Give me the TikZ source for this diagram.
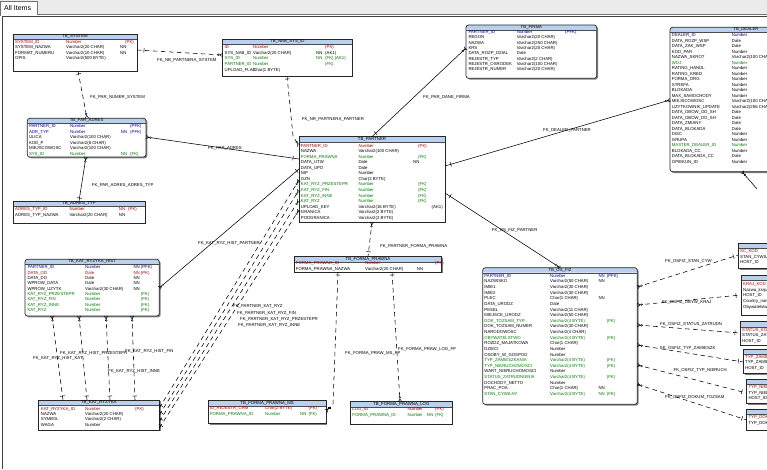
\documentclass[tikz,border=0pt]{standalone}
\usepackage{fontspec}
\setmainfont{Liberation Sans}
\usetikzlibrary{calc,decorations.markings}
\definecolor{rc}{HTML}{B00000}
\definecolor{bc}{HTML}{00008C}
\definecolor{gc}{HTML}{007A00}
\colorlet{kc}{black}
\definecolor{hdrblue}{HTML}{B9D1EE}
\definecolor{shadowc}{HTML}{808080}
\definecolor{tabgray}{HTML}{EBEBEB}
\newcounter{rowc}
\newcommand\tfont{\fontsize{4.3}{5}\selectfont}
\tikzset{
  tblbox/.style={draw=black!85, line width=0.7pt, fill=white, inner sep=0pt, outer sep=0pt,
    path picture={\fill[hdrblue] (path picture bounding box.north west) rectangle ([yshift=-5pt]path picture bounding box.north east);
      \draw[black!70,line width=0.4pt] ([yshift=-5pt]path picture bounding box.north west) -- ([yshift=-5pt]path picture bounding box.north east);}},
  rnd/.style={rounded corners=2.5pt},
  cell/.style={inner sep=0pt, anchor=west, font=\tfont, text height=3pt, text depth=0.9pt},
  ttl/.style={inner sep=0pt, font=\tfont, text height=3pt, text depth=0.9pt},
  lbl/.style={inner sep=0pt, anchor=west, font=\tfont, text height=3pt, text depth=0.9pt},
  conn/.style={line width=0.55pt, black},
  dsh/.style={dash pattern=on 4.5pt off 3.5pt},
  oneS/.style={postaction={decorate,decoration={markings,mark=at position #1 with {\draw[solid,line width=0.5pt] (0,-2.3pt)--(0,2.3pt);}}}},
  oneS/.default=3pt,
  oneE/.style={postaction={decorate,decoration={markings,mark=at position -#1 with {\draw[solid,line width=0.5pt] (0,-2.3pt)--(0,2.3pt);}}}},
  oneE/.default=3pt,
  manyS/.style={postaction={decorate,decoration={markings,mark=at position 3pt with {\draw[solid,line width=0.45pt] (0,0)--(-3pt,1.8pt) (0,0)--(-3pt,-1.8pt); \draw[solid,line width=0.4pt,fill=white] (1.4pt,0) circle (0.9pt);}}}},
  manyE/.style={postaction={decorate,decoration={markings,mark=at position -3pt with {\draw[solid,line width=0.45pt] (0,0)--(3pt,1.8pt) (0,0)--(3pt,-1.8pt); \draw[solid,line width=0.4pt,fill=white] (-1.4pt,0) circle (0.9pt);}}}},
}
\newcommand\tb[7][]{%
  \fill[shadowc,#1] (#3+1.3,#4+1.3) rectangle (#5+1.3,#6+1.3);%
  \pgfmathsetmacro\tbw{#5-#3}\pgfmathsetmacro\tbh{#6-#4}%
  \node[tblbox,#1,minimum width=\tbw pt,minimum height=\tbh pt,anchor=north west] (#2) at (#3,#4) {};%
  \node[ttl] (#2-t) at ([yshift=-2.6pt]#2.north) {#7};%
  \xdef\curT{#2}\setcounter{rowc}{0}}
\newcommand\cols[6]{\xdef\cxa{#1}\xdef\cxb{#2}\xdef\cxc{#3}\xdef\cxd{#4}\xdef\cy{#5}\xdef\cdy{#6}}
\newcommand\rw[5]{%
  \stepcounter{rowc}%
  \pgfmathsetmacro\ry{\cy+(\therowc-1)*\cdy}%
  \node[cell,text=#1] (\curT-\therowc a) at (\cxa,\ry) {#2};%
  \if\relax\detokenize{#3}\relax\else\node[cell,text=#1] (\curT-\therowc b) at (\cxb,\ry) {#3};\fi
  \if\relax\detokenize{#4}\relax\else\node[cell,text=#1] (\curT-\therowc c) at (\cxc,\ry) {#4};\fi
  \if\relax\detokenize{#5}\relax\else\node[cell,text=#1] (\curT-\therowc d) at (\cxd,\ry) {#5};\fi}
\begin{document}
\begin{tikzpicture}[x=1pt,y=-1pt]
\useasboundingbox (0,0) rectangle (767,469);
\fill[white] (0,0) rectangle (767,469);
\fill[tabgray] (0,0) rectangle (767,14.5);
\fill[white] (0.5,0.8) rectangle (37,15.5);
\draw[black!55,line width=0.6pt] (0.5,15.5) -- (0.5,0.8) -- (37,0.8) -- (37,14.5) -- (767,14.5);
\node[font=\fontsize{7}{8}\selectfont,inner sep=0pt,anchor=west] (tab) at (4,8) {All Items};
\draw[black!75,line width=0.8pt] (2.5,469) -- (2.5,16.8) -- (767,16.8);
\begin{scope}
\clip (3,17.3) rectangle (767,469);
% ---------- tables
\tb{sys}{13}{34}{137}{71}{TB\_SYSTEM}
\cols{15}{66}{120}{125}{42.3}{5.5}
\rw{rc}{SYSTEM\_ID}{Number}{}{(PK)}
\rw{kc}{SYSTEM\_NAZWA}{Varchar2(20 CHAR)}{NN}{}
\rw{kc}{FORMAT\_NUMERU}{Varchar2(10 CHAR)}{NN}{}
\rw{kc}{OPIS}{Varchar2(500 BYTE)}{}{}

\tb{nab}{222.7}{39}{352}{76}{TB\_NAB\_SYS\_ID}
\cols{224.5}{253}{316}{325}{47.7}{5.6}
\rw{rc}{ID}{Number}{}{(PK)}
\rw{kc}{SYS\_NAB\_ID}{Varchar2(20 CHAR)}{NN}{(AK1)}
\rw{gc}{SYS\_ID}{Number}{NN}{(FK) (AK1)}
\rw{gc}{PARTNER\_ID}{Number}{}{(FK)}
\rw{kc}{UPLOAD\_FLAG}{Char(1 BYTE)}{}{}

\tb[rnd]{fir}{466}{25}{596.7}{78.3}{TB\_FIRMA}
\cols{468.3}{516.7}{555}{565}{32.3}{5.35}
\rw{bc}{PARTNER\_ID}{Number}{}{(PFK)}
\rw{kc}{REGON}{Varchar2(20 CHAR)}{}{}
\rw{kc}{NAZWA}{Varchar2(250 CHAR)}{}{}
\rw{kc}{KRS}{Varchar2(20 CHAR)}{}{}
\rw{kc}{DATA\_ROZP\_DZIAL}{Date}{}{}
\rw{kc}{REJESTR\_TYP}{Varchar2(2 CHAR)}{}{}
\rw{kc}{REJESTR\_OSRODEK}{Varchar2(100 CHAR)}{}{}
\rw{kc}{REJESTR\_NUMER}{Varchar2(20 CHAR)}{}{}

\tb[rnd]{dea}{670}{27.3}{822}{171.7}{TB\_DEALER}
\cols{671.7}{731.7}{790}{800}{35.5}{5.5}
\rw{bc}{DEALER\_ID}{Number}{}{}
\rw{kc}{DATA\_ROZP\_WSP}{Date}{}{}
\rw{kc}{DATA\_ZAK\_WSP}{Date}{}{}
\rw{kc}{KOD\_PAR}{Number}{}{}
\rw{kc}{NAZWA\_SKROT}{Varchar2(100 CHAR)}{}{}
\rw{gc}{WOJ}{Number}{}{}
\rw{kc}{RATING\_HANDL}{Number}{}{}
\rw{kc}{RATING\_KRED}{Number}{}{}
\rw{kc}{FORMA\_ORG}{Number}{}{}
\rw{kc}{STREFA}{Number}{}{}
\rw{kc}{BLOKADA}{Number}{}{}
\rw{kc}{MAX\_SAMOCHODY}{Number}{}{}
\rw{kc}{MIEJSCOWOSC}{Varchar2(100 CHAR)}{}{}
\rw{kc}{UZYTKOWNIK\_UPDATE}{Varchar2(256 CHAR)}{}{}
\rw{kc}{DATA\_OBOW\_OD\_SH}{Date}{}{}
\rw{kc}{DATA\_OBOW\_DO\_SH}{Date}{}{}
\rw{kc}{DATA\_ZMIANY}{Date}{}{}
\rw{kc}{DATA\_BLOKADA}{Date}{}{}
\rw{kc}{DISC}{Number}{}{}
\rw{kc}{GRUPA}{Number}{}{}
\rw{gc}{MASTER\_DEALER\_ID}{Number}{}{}
\rw{kc}{BLOKADA\_CC}{Number}{}{}
\rw{kc}{DATA\_BLOKADA\_CC}{Date}{}{}
\rw{kc}{OPIEKUN\_ID}{Number}{}{}

\tb[rnd]{adr}{27.3}{118.3}{146}{157}{TB\_PAR\_ADRES}
\cols{28.8}{70}{120.7}{130}{126.7}{5.5}
\rw{bc}{PARTNER\_ID}{Number}{}{(PFK)}
\rw{bc}{ADR\_TYP}{Number}{NN}{(PFK)}
\rw{kc}{ULICA}{Varchar2(100 CHAR)}{}{}
\rw{kc}{KOD\_P}{Varchar2(6 CHAR)}{}{}
\rw{kc}{MIEJSCOWOSC}{Varchar2(100 CHAR)}{}{}
\rw{gc}{SYS\_ID}{Number}{NN}{(FK)}

\tb{adt}{13}{201}{145}{223}{TB\_ADRES\_TYP}
\cols{15}{69.3}{118.7}{128}{209.5}{5.7}
\rw{rc}{ADRES\_TYP\_ID}{Number}{NN}{(PK)}
\rw{kc}{ADRES\_TYP\_NAZWA}{Varchar2(20 CHAR)}{NN}{}

\tb{par}{299}{136.7}{445}{222}{TB\_PARTNER}
\cols{300.7}{358.3}{413}{418}{146}{5.56}
\rw{rc}{PARTNER\_ID}{Number}{}{(PK)}
\rw{kc}{NAZWA}{Varchar2(100 CHAR)}{}{}
\rw{gc}{FORMA\_PRAWNA}{Number}{}{(FK)}
\rw{kc}{DATA\_UTW}{Date}{NN}{}
\rw{kc}{DATA\_UPD}{Date}{}{}
\rw{kc}{NIP}{Number}{}{}
\rw{kc}{OZN}{Char(2 BYTE)}{}{}
\rw{gc}{KAT\_RYZ\_PRZESTEPR}{Number}{}{(FK)}
\rw{gc}{KAT\_RYZ\_FIN}{Number}{}{(FK)}
\rw{gc}{KAT\_RYZ\_INNE}{Number}{}{(FK)}
\rw{gc}{KAT\_RYZ}{Number}{}{(FK)}
\rw{kc}{UPLOAD\_KEY}{Varchar2(16 BYTE)}{}{\hspace*{13.5pt}(AK1)}
\rw{kc}{GRANICA}{Varchar2(2 BYTE)}{}{}
\rw{kc}{PODGRANICA}{Varchar2(2 BYTE)}{}{}

\tb[rnd]{kh}{25}{259.3}{159.3}{316}{TB\_KAT\_RYZYKA\_HIST}
\cols{27.3}{85}{133.3}{140.7}{267.7}{5.33}
\rw{bc}{PARTNER\_ID}{Number}{NN}{(PFK)}
\rw{rc}{DATA\_OD}{Date}{NN}{(PK)}
\rw{kc}{DATA\_DO}{Date}{NN}{}
\rw{kc}{WPROW\_DATA}{Date}{NN}{}
\rw{kc}{WPROW\_UZYTK}{Varchar2(30 CHAR)}{NN}{}
\rw{gc}{KAT\_RYZ\_PRZESTEPR}{Number}{}{(FK)}
\rw{gc}{KAT\_RYZ\_FIN}{Number}{}{(FK)}
\rw{gc}{KAT\_RYZ\_INNE}{Number}{}{(FK)}
\rw{gc}{KAT\_RYZ}{Number}{}{(FK)}

\tb{fp}{294.3}{256.7}{441.7}{272}{TB\_FORMA\_PRAWNA}
\cols{295.7}{365}{416.7}{435}{263.7}{5.4}
\rw{rc}{FORMA\_PRAWNA\_ID}{Number}{}{(PK)}
\rw{kc}{FORMA\_PRAWNA\_NAZWA}{Varchar2(20 CHAR)}{NN}{}

\tb{kr}{38.3}{400}{159.3}{430}{TB\_KAT\_RYZYKA}
\cols{40.7}{85}{125}{135}{409}{5.4}
\rw{rc}{KAT\_RYZYKA\_ID}{Number}{}{(PK)}
\rw{kc}{NAZWA}{Varchar2(20 CHAR)}{}{}
\rw{kc}{SYMBOL}{Varchar2(2 CHAR)}{}{}
\rw{kc}{WAGA}{Number}{}{}

\tb{ms}{208.3}{400.7}{326}{423.3}{TB\_FORMA\_PRAWNA\_MS}
\cols{209.8}{265}{300}{308.3}{408.5}{5.6}
\rw{rc}{ID\_REJESTR\_CRM}{Char(2 BYTE)}{}{(PK)}
\rw{gc}{FORMA\_PRAWNA\_ID}{Number}{NN}{(FK)}

\tb{lg}{350.7}{401.7}{452}{424}{TB\_FORMA\_PRAWNA\_LOG}
\cols{352.2}{407.3}{426.7}{435}{409.5}{5.6}
\rw{rc}{LOG\_ID}{Number}{}{(PK)}
\rw{gc}{FORMA\_PRAWNA\_ID}{Number}{NN}{(FK)}

\tb[rnd]{osf}{482.7}{267.7}{637.3}{404.3}{TB\_OS\_FIZ}
\cols{484.2}{550}{598.3}{606.7}{276.3}{5.62}
\rw{bc}{PARTNER\_ID}{Number}{NN}{(PFK)}
\rw{kc}{NAZWISKO}{Varchar2(50 CHAR)}{NN}{}
\rw{kc}{IMIE1}{Varchar2(30 CHAR)}{}{}
\rw{kc}{IMIE2}{Varchar2(30 CHAR)}{}{}
\rw{kc}{PLEC}{Char(1 CHAR)}{NN}{}
\rw{kc}{DATA\_URODZ}{Date}{}{}
\rw{kc}{PESEL}{Varchar2(11 CHAR)}{}{}
\rw{kc}{MIEJSCE\_URODZ}{Varchar2(50 CHAR)}{}{}
\rw{gc}{DOK\_TOZSAM\_TYP}{Varchar2(4 BYTE)}{}{(FK)}
\rw{kc}{DOK\_TOZSAM\_NUMER}{Varchar2(30 CHAR)}{}{}
\rw{kc}{NARODOWOSC}{Varchar2(4 CHAR)}{}{}
\rw{gc}{OBYWATELSTWO}{Varchar2(4 BYTE)}{}{(FK)}
\rw{kc}{ROZDZ\_MAJATKOWA}{Char(1 CHAR)}{}{}
\rw{kc}{DZIECI}{Number}{}{}
\rw{kc}{OSOBY\_W\_GOSPOD}{Number}{}{}
\rw{gc}{TYP\_ZAMIESZKANIA}{Varchar2(4 BYTE)}{}{(FK)}
\rw{gc}{TYP\_NIERUCHOMOSCI}{Varchar2(4 BYTE)}{}{(FK)}
\rw{kc}{WART\_NIERUCHOMOSCI}{Number}{}{}
\rw{gc}{STATUS\_ZATRUDNIENIA}{Varchar2(4 BYTE)}{}{(FK)}
\rw{kc}{DOCHODY\_NETTO}{Number}{}{}
\rw{kc}{PRAC\_POA}{Char(1 CHAR)}{NN}{}
\rw{gc}{STAN\_CYWILNY}{Varchar2(4 BYTE)}{NN}{(FK)}

% partially visible tables at the right edge
\tb{ta}{738.3}{243.3}{860}{268.3}{}
\cols{740}{800}{830}{840}{251.7}{5.6}
\rw{rc}{SC\_KOD}{}{}{}
\rw{kc}{STAN\_CYWILNY}{}{}{}
\rw{kc}{HOST\_ID}{}{}{}
\tb{tb}{741}{275}{860}{315}{}
\cols{743}{800}{830}{840}{284.3}{5.7}
\rw{rc}{KRAJ\_KOD}{}{}{}
\rw{kc}{Nazwa\_kraju}{}{}{}
\rw{kc}{HOST\_ID}{}{}{}
\rw{kc}{Country\_name}{}{}{}
\rw{kc}{Obywatelstwo}{}{}{}
\tb{tc}{740}{321.7}{860}{345}{}
\cols{742}{800}{830}{840}{330}{5.6}
\rw{rc}{STATUS\_KOD}{}{}{}
\rw{kc}{STATUS\_ZATRUDNIENIA}{}{}{}
\rw{kc}{HOST\_ID}{}{}{}
\tb{td}{743.3}{349}{860}{373.3}{}
\cols{745}{800}{830}{840}{357}{5.6}
\rw{rc}{TYP\_ZAMIESZK\_KOD}{}{}{}
\rw{kc}{TYP\_ZAMIESZKANIA}{}{}{}
\rw{kc}{HOST\_ID}{}{}{}
\tb{te}{746.7}{379}{860}{403.3}{}
\cols{748.3}{800}{830}{840}{387.7}{5.6}
\rw{rc}{TYP\_NIERUCH\_KOD}{}{}{}
\rw{kc}{TYP\_NIERUCHOMOSCI}{}{}{}
\rw{kc}{HOST\_ID}{}{}{}
\tb{tf}{746.7}{409}{860}{430}{}
\cols{748.3}{800}{830}{840}{417.7}{5.6}
\rw{rc}{TYP\_DOKUM\_KOD}{}{}{}
\rw{kc}{TYP\_DOKUMENTU}{}{}{}

% ---------- connectors
\draw[conn,dsh,oneS=7pt,manyE] (sys.east |- 0,50) -- (nab.west |- 0,55);
\draw[conn,dsh,oneS,manyE] (78,0 |- sys.south) -- (87,0 |- adr.north);
\draw[conn,dsh,oneS,manyE] (287,0 |- nab.south) -- (293,136) -- (par.west |- 0,146);
\draw[conn,manyS,oneE=6pt] (adr.east |- 0,137) -- (par.west |- 0,159);
\draw[conn,manyS,oneE] (86,0 |- adr.south) -- (79,0 |- adt.north);
\draw[conn,manyS,oneE=5pt] (fir.west |- 0,48) -- (par.north);
\draw[conn,manyS,oneE=6pt] (dea.west |- 0,100) -- (par.east |- 0,166);
\draw[conn,manyS,oneE=6pt] (osf.north) -- (par.east |- 0,193);
\draw[conn,manyS,oneE] (kh.east |- 0,288) -- (par.west |- 0,169);
\foreach \a/\b in {52/63,79/87,106/110,132/135}
  \draw[conn,dsh,manyS,oneE=4pt] (\a,0 |- kh.south) -- (\b,0 |- kr.north);
\foreach \a/\b in {408/180,415/190,421.5/200,428/210}
  \draw[conn,dsh,oneS,manyE] (kr.east |- 0,\a) -- (par.west |- 0,\b);
\draw[conn,dsh,manyS,oneE=5pt] (par.south) -- (368,0 |- fp.north);
\draw[conn,dsh,oneS,manyE] (338,0 |- fp.south) -- (333,404) -- (ms.east |- 0,411);
\draw[conn,dsh,oneS,manyE] (392,0 |- fp.south) -- (400,0 |- lg.north);
\foreach \a/\t/\b in {287/ta/255,305/tb/295,325/tc/333,345/td/362,365/te/393,384.3/tf/420}
  \draw[conn,dsh,manyS,oneE=5pt] (osf.east |- 0,\a) -- (\t.west |- 0,\b);
\coordinate (deaend) at (757,189);
\draw[conn,manyS] (742,0 |- dea.south) -- (deaend);

% ---------- connector labels
\node[lbl] (l1) at (157,60) {FK\_NB\_PARTNERA\_SYSTEM};
\node[lbl] (l2) at (90,97.7) {FK\_PAR\_NUMER\_SYSTEM};
\node[lbl] (l3) at (208,148) {FK\_PAR\_ADRES};
\node[lbl] (l4) at (91.7,185) {FK\_PAR\_ADRES\_ADRES\_TYP};
\node[lbl] (l5) at (301.7,119.3) {FK\_NR\_PARTNERA\_PARTNER};
\node[lbl] (l6) at (423,97.3) {FK\_PAR\_DANE\_FIRMA};
\node[lbl] (l7) at (543,130) {FK\_DEALER\_PARTNER};
\node[lbl] (l8) at (491.7,230) {FK\_OS\_FIZ\_PARTNER};
\node[lbl] (l9) at (198,243.3) {FK\_KAT\_RYZ\_HIST\_PARTNER};
\node[lbl] (l10) at (380,246.7) {FK\_PARTNER\_FORMA\_PRAWNA};
\node[lbl] (l11) at (233,306) {FK\_PARTNER\_KAT\_RYZ};
\node[lbl] (l12) at (237,313) {FK\_PARTNER\_KAT\_RYZ\_FIN};
\node[lbl] (l13) at (240,319) {FK\_PARTNER\_KAT\_RYZ\_PRZESTEPR};
\node[lbl] (l14) at (238,325) {FK\_PARTNER\_KAT\_RYZ\_INNE};
\node[lbl] (l15) at (33,358.3) {FK\_KAT\_RYZ\_HIST\_KAT};
\node[lbl] (l16) at (60,353.3) {FK\_KAT\_RYZ\_HIST\_PRZESTEPR};
\node[lbl] (l17) at (125,351.7) {FK\_KAT\_RYZ\_HIST\_FIN};
\node[lbl] (l18) at (108,371) {FK\_KAT\_RYZ\_HIST\_INNE};
\node[lbl] (l19) at (345,353) {FK\_FORMA\_PRAW\_MS\_FP};
\node[lbl] (l20) at (398,349) {FK\_FORMA\_PRAW\_LOG\_FP};
\node[lbl] (l21) at (665,261.7) {FK\_OSFIZ\_STAN\_CYW};
\node[lbl] (l22) at (661.7,302.3) {FK\_OSFIZ\_OBYW\_KRAJ};
\node[lbl] (l23) at (660,324.3) {FK\_OSFIZ\_STATUS\_ZATRUDN};
\node[lbl] (l24) at (660,348.3) {FK\_OSFIZ\_TYP\_ZAMIESZK};
\node[lbl] (l25) at (673.3,370) {FK\_OSFIZ\_TYP\_NIERUCH};
\node[lbl] (l26) at (665,397.7) {FK\_OSFIZ\_DOKUM\_TOZSAM};
\end{scope}
\end{tikzpicture}
\end{document}
